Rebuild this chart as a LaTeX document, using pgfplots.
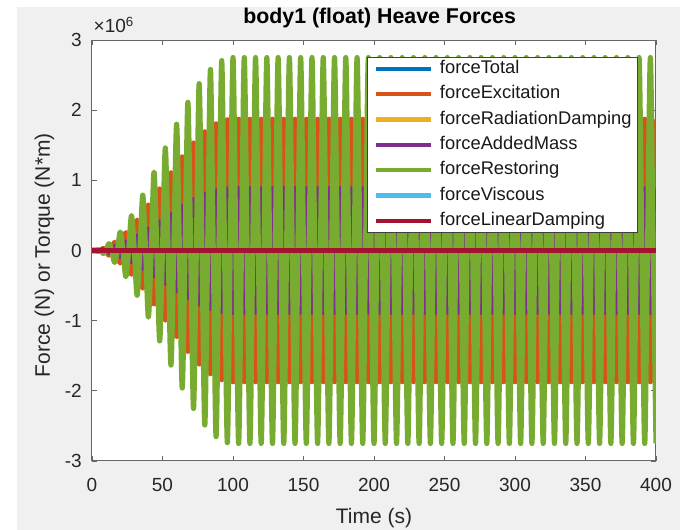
\documentclass[border=0pt]{standalone}
\usepackage{pgfplots}
\usepackage{pgfplotstable}
\pgfplotsset{compat=1.18}
\usepackage{fontspec}
\setmainfont{Liberation Sans}
\definecolor{mblue}{rgb}{0,0.447,0.741}
\definecolor{morange}{rgb}{0.85,0.325,0.098}
\definecolor{myellow}{rgb}{0.929,0.694,0.125}
\definecolor{mpurple}{rgb}{0.494,0.184,0.556}
\definecolor{mgreen}{rgb}{0.466,0.674,0.188}
\definecolor{mcyan}{rgb}{0.301,0.745,0.933}
\definecolor{mred}{rgb}{0.635,0.078,0.184}
\definecolor{figgray}{RGB}{240,240,240}
\pgfplotstableread{
t G O P Y B
0 0 0 0 0 0
2 0 0 0 0.0005 0
4 0.0108 -0.0074 -0.0035 0 -0.0032
6 0 0 0 -0.0044 0
8 -0.0432 0.0294 0.0138 0 0.0126
10 0 0 0 0.0122 0
12 0.0966 -0.0657 -0.0309 0 -0.0281
14 0 0 0 -0.0238 0
16 -0.1701 0.1157 0.0544 0 0.0495
18 0 0 0 0.0389 0
20 0.2626 -0.1786 -0.0840 0 -0.0764
22 0 0 0 -0.0574 0
24 -0.3727 0.2534 0.1192 0 0.1084
26 0 0 0 0.0789 0
28 0.4985 -0.3390 -0.1595 0 -0.1450
30 0 0 0 -0.1031 0
32 -0.6382 0.4340 0.2042 0 0.1857
34 0 0 0 0.1296 0
36 0.7896 -0.5369 -0.2527 0 -0.2297
38 0 0 0 -0.1580 0
40 -0.9501 0.6461 0.3040 0 0.2764
42 0 0 0 0.1878 0
44 1.1174 -0.7598 -0.3576 0 -0.3250
46 0 0 0 -0.2187 0
48 -1.2887 0.8763 0.4124 0 0.3749
50 0 0 0 0.25 0
52 1.4613 -0.9937 -0.4676 0 -0.4251
54 0 0 0 -0.2813 0
56 -1.6326 1.1102 0.5224 0 0.4750
58 0 0 0 0.3122 0
60 1.7999 -1.2239 -0.5760 0 -0.5236
62 0 0 0 -0.3420 0
64 -1.9604 1.3331 0.6273 0 0.5703
66 0 0 0 0.3704 0
68 2.1118 -1.4360 -0.6758 0 -0.6143
70 0 0 0 -0.3969 0
72 -2.2515 1.5310 0.7205 0 0.6550
74 0 0 0 0.4211 0
76 2.3773 -1.6166 -0.7608 0 -0.6916
78 0 0 0 -0.4426 0
80 -2.4874 1.6914 0.7960 0 0.7236
82 0 0 0 0.4611 0
84 2.5799 -1.7543 -0.8256 0 -0.7505
86 0 0 0 -0.4762 0
88 -2.6534 1.8043 0.8491 0 0.7719
90 0 0 0 0.4878 0
92 2.7068 -1.8406 -0.8662 0 -0.7874
94 0 0 0 -0.4956 0
96 -2.7392 1.8626 0.8765 0 0.7968
98 0 0 0 0.4995 0
100 2.75 -1.87 -0.88 0 -0.8
102 0 0 0 -0.5 0
104 -2.75 1.87 0.88 0 0.8
106 0 0 0 0.5 0
108 2.75 -1.87 -0.88 0 -0.8
110 0 0 0 -0.5 0
112 -2.75 1.87 0.88 0 0.8
114 0 0 0 0.5 0
116 2.75 -1.87 -0.88 0 -0.8
118 0 0 0 -0.5 0
120 -2.75 1.87 0.88 0 0.8
122 0 0 0 0.5 0
124 2.75 -1.87 -0.88 0 -0.8
126 0 0 0 -0.5 0
128 -2.75 1.87 0.88 0 0.8
130 0 0 0 0.5 0
132 2.75 -1.87 -0.88 0 -0.8
134 0 0 0 -0.5 0
136 -2.75 1.87 0.88 0 0.8
138 0 0 0 0.5 0
140 2.75 -1.87 -0.88 0 -0.8
142 0 0 0 -0.5 0
144 -2.75 1.87 0.88 0 0.8
146 0 0 0 0.5 0
148 2.75 -1.87 -0.88 0 -0.8
150 0 0 0 -0.5 0
152 -2.75 1.87 0.88 0 0.8
154 0 0 0 0.5 0
156 2.75 -1.87 -0.88 0 -0.8
158 0 0 0 -0.5 0
160 -2.75 1.87 0.88 0 0.8
162 0 0 0 0.5 0
164 2.75 -1.87 -0.88 0 -0.8
166 0 0 0 -0.5 0
168 -2.75 1.87 0.88 0 0.8
170 0 0 0 0.5 0
172 2.75 -1.87 -0.88 0 -0.8
174 0 0 0 -0.5 0
176 -2.75 1.87 0.88 0 0.8
178 0 0 0 0.5 0
180 2.75 -1.87 -0.88 0 -0.8
182 0 0 0 -0.5 0
184 -2.75 1.87 0.88 0 0.8
186 0 0 0 0.5 0
188 2.75 -1.87 -0.88 0 -0.8
190 0 0 0 -0.5 0
192 -2.75 1.87 0.88 0 0.8
194 0 0 0 0.5 0
196 2.75 -1.87 -0.88 0 -0.8
198 0 0 0 -0.5 0
200 -2.75 1.87 0.88 0 0.8
202 0 0 0 0.5 0
204 2.75 -1.87 -0.88 0 -0.8
206 0 0 0 -0.5 0
208 -2.75 1.87 0.88 0 0.8
210 0 0 0 0.5 0
212 2.75 -1.87 -0.88 0 -0.8
214 0 0 0 -0.5 0
216 -2.75 1.87 0.88 0 0.8
218 0 0 0 0.5 0
220 2.75 -1.87 -0.88 0 -0.8
222 0 0 0 -0.5 0
224 -2.75 1.87 0.88 0 0.8
226 0 0 0 0.5 0
228 2.75 -1.87 -0.88 0 -0.8
230 0 0 0 -0.5 0
232 -2.75 1.87 0.88 0 0.8
234 0 0 0 0.5 0
236 2.75 -1.87 -0.88 0 -0.8
238 0 0 0 -0.5 0
240 -2.75 1.87 0.88 0 0.8
242 0 0 0 0.5 0
244 2.75 -1.87 -0.88 0 -0.8
246 0 0 0 -0.5 0
248 -2.75 1.87 0.88 0 0.8
250 0 0 0 0.5 0
252 2.75 -1.87 -0.88 0 -0.8
254 0 0 0 -0.5 0
256 -2.75 1.87 0.88 0 0.8
258 0 0 0 0.5 0
260 2.75 -1.87 -0.88 0 -0.8
262 0 0 0 -0.5 0
264 -2.75 1.87 0.88 0 0.8
266 0 0 0 0.5 0
268 2.75 -1.87 -0.88 0 -0.8
270 0 0 0 -0.5 0
272 -2.75 1.87 0.88 0 0.8
274 0 0 0 0.5 0
276 2.75 -1.87 -0.88 0 -0.8
278 0 0 0 -0.5 0
280 -2.75 1.87 0.88 0 0.8
282 0 0 0 0.5 0
284 2.75 -1.87 -0.88 0 -0.8
286 0 0 0 -0.5 0
288 -2.75 1.87 0.88 0 0.8
290 0 0 0 0.5 0
292 2.75 -1.87 -0.88 0 -0.8
294 0 0 0 -0.5 0
296 -2.75 1.87 0.88 0 0.8
298 0 0 0 0.5 0
300 2.75 -1.87 -0.88 0 -0.8
302 0 0 0 -0.5 0
304 -2.75 1.87 0.88 0 0.8
306 0 0 0 0.5 0
308 2.75 -1.87 -0.88 0 -0.8
310 0 0 0 -0.5 0
312 -2.75 1.87 0.88 0 0.8
314 0 0 0 0.5 0
316 2.75 -1.87 -0.88 0 -0.8
318 0 0 0 -0.5 0
320 -2.75 1.87 0.88 0 0.8
322 0 0 0 0.5 0
324 2.75 -1.87 -0.88 0 -0.8
326 0 0 0 -0.5 0
328 -2.75 1.87 0.88 0 0.8
330 0 0 0 0.5 0
332 2.75 -1.87 -0.88 0 -0.8
334 0 0 0 -0.5 0
336 -2.75 1.87 0.88 0 0.8
338 0 0 0 0.5 0
340 2.75 -1.87 -0.88 0 -0.8
342 0 0 0 -0.5 0
344 -2.75 1.87 0.88 0 0.8
346 0 0 0 0.5 0
348 2.75 -1.87 -0.88 0 -0.8
350 0 0 0 -0.5 0
352 -2.75 1.87 0.88 0 0.8
354 0 0 0 0.5 0
356 2.75 -1.87 -0.88 0 -0.8
358 0 0 0 -0.5 0
360 -2.75 1.87 0.88 0 0.8
362 0 0 0 0.5 0
364 2.75 -1.87 -0.88 0 -0.8
366 0 0 0 -0.5 0
368 -2.75 1.87 0.88 0 0.8
370 0 0 0 0.5 0
372 2.75 -1.87 -0.88 0 -0.8
374 0 0 0 -0.5 0
376 -2.75 1.87 0.88 0 0.8
378 0 0 0 0.5 0
380 2.75 -1.87 -0.88 0 -0.8
382 0 0 0 -0.5 0
384 -2.75 1.87 0.88 0 0.8
386 0 0 0 0.5 0
388 2.75 -1.87 -0.88 0 -0.8
390 0 0 0 -0.5 0
392 -2.75 1.87 0.88 0 0.8
394 0 0 0 0.5 0
396 2.75 -1.87 -0.88 0 -0.8
398 0 0 0 -0.5 0
400 -2.75 1.87 0.88 0 0.8
}\data
\begin{document}
\begin{tikzpicture}
\fill[white] (0,0) rectangle (408pt,318pt);
\fill[figgray] (10.2pt,0) rectangle (408pt,313.8pt);
\begin{axis}[
  at={(55.2pt,41.4pt)}, anchor=south west,
  scale only axis, width=338.4pt, height=252.6pt,
  xmin=0, xmax=400, ymin=-3, ymax=3,
  axis background/.style={fill=white},
  xtick={0,50,...,400}, ytick={-3,-2,-1,0,1,2,3},
  xticklabels={0,50,100,150,200,250,300,350,400},
  yticklabels={-3,-2,-1,0,1,2,3},
  tick align=inside, major tick length=3pt,
  xtick pos=both, ytick pos=both,
  tick style={black!60, line width=0.5pt},
  axis line style={black!60, line width=0.6pt},
  ticklabel style={font=\fontsize{11.4}{13}\selectfont, text=black!85, inner sep=0pt},
  xticklabel style={anchor=base, yshift=-18.6pt},
  yticklabel style={anchor=east, xshift=-6pt},
  title={body1 (float) Heave Forces},
  title style={at={(axis description cs:0.51,1.0166)}, anchor=base, inner sep=0pt, font=\bfseries\fontsize{12.8}{15}\selectfont, text=black},
  xlabel={Time (s)},
  xlabel style={at={(axis description cs:0.5,-0.1473)}, anchor=base, inner sep=0pt, font=\fontsize{12.6}{15}\selectfont, text=black!85},
  ylabel={Force (N) or Torque (N*m)},
  ylabel style={at={(axis description cs:-0.0842,0.489)}, anchor=center, inner sep=0pt, font=\fontsize{12.6}{15}\selectfont, text=black!85},
  legend style={at={(axis description cs:0.9681,0.9596)}, anchor=north east, draw=black!75, line width=0.5pt, fill=white, inner xsep=3.6pt, inner ysep=1.5pt, row sep=4.4pt, font=\fontsize{11}{13.4}\selectfont, nodes={inner sep=0pt, text height=8.2pt, text depth=2.6pt, text=black!90}, /tikz/every odd column/.append style={column sep=4.2pt}},
  legend cell align=left,
  legend image code/.code={\draw[#1, line width=2.6pt] (0pt,0pt) -- (33pt,0pt);},
  every axis plot/.append style={line width=3.1pt, line join=round},
]
\addplot[mblue, smooth] table[x=t,y=B]{\data};
\addlegendentry{forceTotal}
\addplot[morange, smooth] table[x=t,y=O]{\data};
\addlegendentry{forceExcitation}
\addplot[myellow, smooth] table[x=t,y=Y]{\data};
\addlegendentry{forceRadiationDamping}
\addplot[mpurple, smooth] table[x=t,y=P]{\data};
\addlegendentry{forceAddedMass}
\addplot[mgreen, smooth] table[x=t,y=G]{\data};
\addlegendentry{forceRestoring}
\addplot[mcyan, line width=2.6pt] coordinates {(0,0) (400,0)};
\addlegendentry{forceViscous}
\addplot[mred, line width=2.6pt] coordinates {(0,0) (400,0)};
\addlegendentry{forceLinearDamping}
\end{axis}
\node[anchor=base west, inner sep=0pt, font=\fontsize{11.4}{13}\selectfont, text=black!85] at (56pt,298.2pt) {×10\textsuperscript{6}};
\end{tikzpicture}
\end{document}
